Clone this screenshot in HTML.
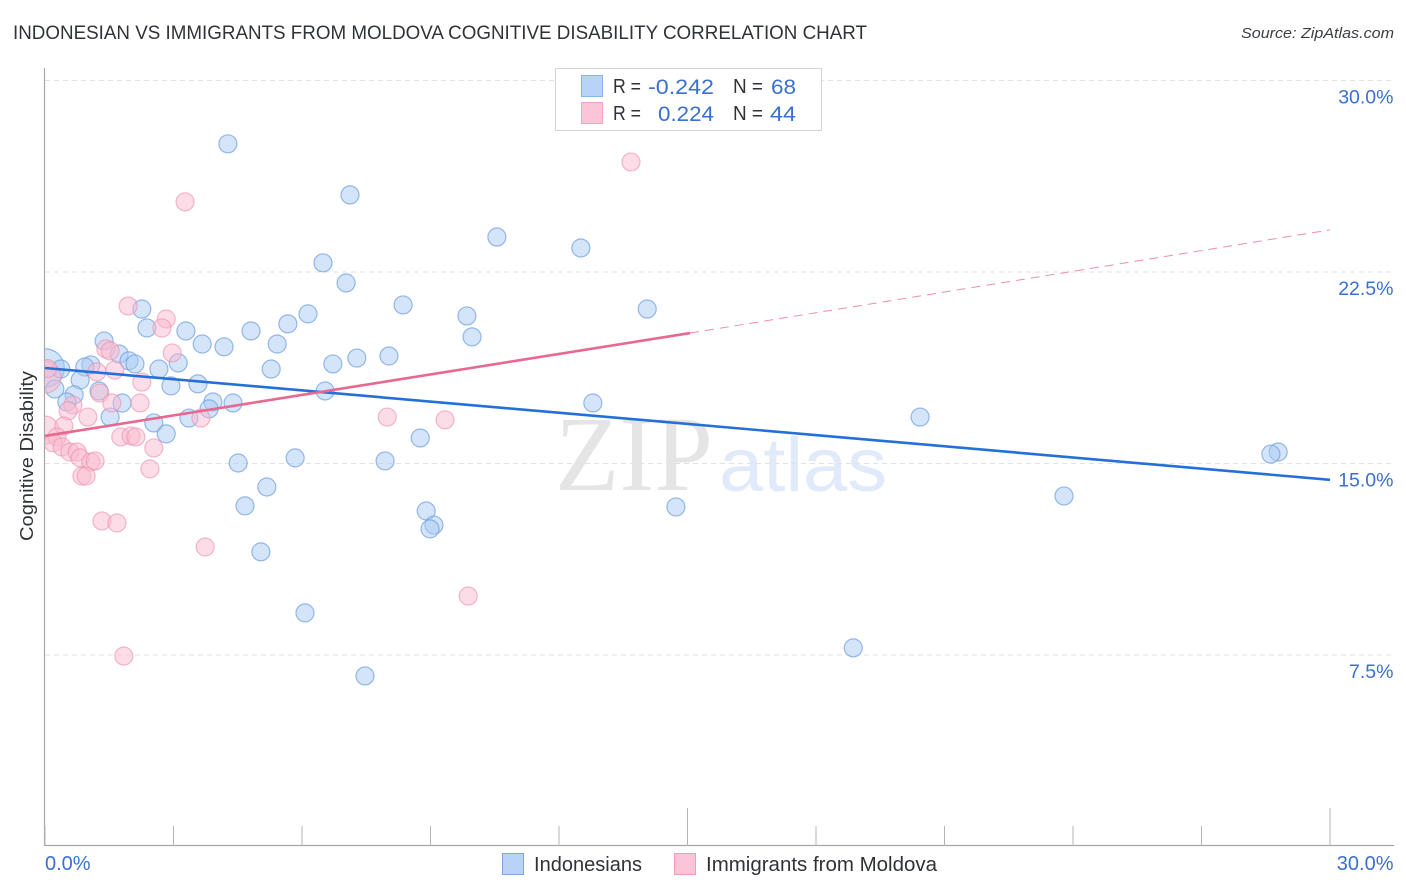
<!DOCTYPE html>
<html lang="en">
<head>
<meta charset="utf-8">
<title>Indonesian vs Immigrants from Moldova Cognitive Disability Correlation Chart</title>
<style>
html,body{margin:0;padding:0;background:#fff;width:1406px;height:892px;overflow:hidden}
svg{display:block;font-family:"Liberation Sans",sans-serif}
</style>
</head>
<body>
<svg id="chart" width="1406" height="892" viewBox="0 0 1406 892" xmlns="http://www.w3.org/2000/svg">
  <defs>
    <clipPath id="plot-clip"><rect x="45" y="60" width="1349" height="786"/></clipPath>
  </defs>
  <rect x="0" y="0" width="1406" height="892" fill="#fff"/>
  <text x="13" y="39" font-size="19" fill="#2f3338" textLength="854" lengthAdjust="spacingAndGlyphs">INDONESIAN VS IMMIGRANTS FROM MOLDOVA COGNITIVE DISABILITY CORRELATION CHART</text>
  <text x="1394" y="38" font-size="15" font-style="italic" fill="#3c4043" text-anchor="end" textLength="153" lengthAdjust="spacingAndGlyphs">Source: ZipAtlas.com</text>

  <g>
    <text x="555" y="490" font-family="'Liberation Serif',serif" font-size="107" fill="#e5e5e5" textLength="158" lengthAdjust="spacingAndGlyphs">ZIP</text>
    <text x="719" y="491" font-size="76" fill="#e1eafa" textLength="168" lengthAdjust="spacingAndGlyphs">atlas</text>
  </g>

  <g id="grid"></g>
  <g id="axes"></g>
  <g id="points" clip-path="url(#plot-clip)"></g>
  <g id="trends"></g>

  <g>
    <rect x="555.5" y="68.5" width="266" height="62" fill="#fff" stroke="#d4d4d4"/>
    <rect x="581.5" y="75.5" width="21" height="21" fill="#b8d3f6" stroke="#8db2e6"/>
    <rect x="581.5" y="102.5" width="21" height="21" fill="#fcc5d7" stroke="#f0a6bf"/>
    <g font-size="20" fill="#2f3338" lengthAdjust="spacingAndGlyphs">
      <text x="613" y="93" textLength="28" lengthAdjust="spacingAndGlyphs">R =</text>
      <text x="733" y="93" textLength="30" lengthAdjust="spacingAndGlyphs">N =</text>
      <text x="613" y="120" textLength="28" lengthAdjust="spacingAndGlyphs">R =</text>
      <text x="733" y="120" textLength="30" lengthAdjust="spacingAndGlyphs">N =</text>
    </g>
    <g font-size="21" fill="#3a70cf">
      <text x="648" y="94" textLength="66" lengthAdjust="spacingAndGlyphs">-0.242</text>
      <text x="771" y="94" textLength="25" lengthAdjust="spacingAndGlyphs">68</text>
      <text x="658" y="121" textLength="56" lengthAdjust="spacingAndGlyphs">0.224</text>
      <text x="770" y="121" textLength="26" lengthAdjust="spacingAndGlyphs">44</text>
    </g>
  </g>

  <g>
    <g>
      <rect x="502.5" y="853.5" width="21" height="21" fill="#b8d3f6" stroke="#7ea6df"/>
      <text x="534" y="871" font-size="20" fill="#2f3338" textLength="108" lengthAdjust="spacingAndGlyphs">Indonesians</text>
    </g>
    <g>
      <rect x="674.5" y="853.5" width="21" height="21" fill="#fcc5d7" stroke="#ee9fba"/>
      <text x="706" y="871" font-size="20" fill="#2f3338" textLength="231" lengthAdjust="spacingAndGlyphs">Immigrants from Moldova</text>
    </g>
  </g>
  <text transform="translate(33,456) rotate(-90)" font-size="18.5" fill="#2f3338" text-anchor="middle" textLength="170" lengthAdjust="spacingAndGlyphs">Cognitive Disability</text>
</svg>

<script>
const yTickValues = [30, 22.5, 15, 7.5];
const yTickLabels = ["30.0%", "22.5%", "15.0%", "7.5%"];
const xTickValues = [0, 3, 6, 9, 12, 15, 18, 21, 24, 27, 30];
const xMajorTicks = [15, 30];
const xEndValues = [0, 30];
const xEndLabels = ["0.0%", "30.0%"];

const indonesianX = [0,4.27,7.12,10.55,12.51,6.49,7.03,8.36,2.26,6.14,9.85,14.06,2.38,3.29,4.81,5.67,9.97,1.38,3.67,4.18,5.42,1.73,1.96,2.10,1.07,0.93,0.37,2.66,3.11,5.28,6.72,7.28,8.03,0.82,2.94,3.57,0.23,0.68,1.26,6.54,0.51,1.80,3.92,4.39,3.83,12.79,1.52,3.36,2.54,20.43,2.83,8.76,4.51,5.84,7.94,28.79,28.62,5.18,23.79,4.67,14.73,8.90,9.08,8.99,5.04,6.07,18.87,7.47];
const indonesianY = [18.72,27.50,25.50,23.85,23.42,22.84,22.05,21.19,21.03,20.84,20.76,21.03,20.29,20.17,20.17,20.45,19.94,19.78,19.66,19.55,19.66,19.27,19.00,18.88,18.84,18.76,18.68,18.68,18.92,18.68,18.88,19.11,19.19,18.25,18.02,18.10,17.90,17.67,17.82,17.82,17.39,17.35,17.39,17.35,17.12,17.35,16.80,16.76,16.57,16.80,16.14,15.98,15.00,15.20,15.08,15.43,15.35,14.06,13.71,13.32,13.28,13.12,12.57,12.42,11.52,9.13,7.76,6.66];
const indonesianWeights = [4.6];

const moldovaX = [0,0,0.06,13.68,3.27,1.94,2.83,2.73,2.97,1.42,1.52,1.63,1.21,2.26,1.28,2.22,1.56,0.65,0.54,1.00,3.64,7.99,9.34,0.44,1.77,2.01,2.12,0.28,0.19,0.40,2.54,0.58,0.75,0.82,1.07,1.17,2.45,0.86,0.96,1.33,1.68,3.74,9.88,1.84];
const moldovaY = [18.37,16.29,18.70,26.79,25.23,21.15,20.64,20.29,19.31,19.47,19.39,18.64,18.57,18.17,17.74,17.35,17.35,17.27,17.04,16.80,16.76,16.80,16.69,16.45,16.02,16.06,16.02,16.02,15.79,15.63,15.59,15.43,15.43,15.20,15.04,15.08,14.77,14.49,14.49,12.73,12.65,11.71,9.79,7.44];
const moldovaWeights = [3.2, 2.4];

const indonesianTrendX = [0, 30];
const indonesianTrendY = [18.72, 14.34];
const moldovaSolidTrendX = [0, 15.06];
const moldovaSolidTrendY = [16.06, 20.09];
const moldovaDashedTrendX = [15.06, 30];
const moldovaDashedTrendY = [20.09, 24.13];

const SVGNS = "http://www.w3.org/2000/svg";
const xScale = v => 45 + v * (1330 - 45) / 30;
const yScale = v => 846 - v * (846 - 80) / 30;
const radius = w => 9 * Math.sqrt(w || 1);

function make(tag, attrs, parent) {
  const el = document.createElementNS(SVGNS, tag);
  for (const k in attrs) el.setAttribute(k, attrs[k]);
  parent.appendChild(el);
  return el;
}

const gridG = document.getElementById("grid");
const axesG = document.getElementById("axes");
const pointsG = document.getElementById("points");
const trendsG = document.getElementById("trends");

yTickValues.forEach((v, i) => {
  const line = make("line", {x1: 45, x2: 1394, y1: yScale(v) + 0.5, y2: yScale(v) + 0.5, stroke: "#e2e2e2", "stroke-width": 1, "stroke-dasharray": "5 4"}, gridG);
  
  
  const label = make("text", {x: 1393.5, y: yScale(v) + 23.5, "font-size": 19.5, fill: "#3a70cf", "text-anchor": "end"}, axesG);
  label.textContent = yTickLabels[i];
  
  
});

const yAxisLine = make("line", {x1: 44.5, x2: 44.5, y1: 68, y2: 846, stroke: "#a8a8a8", "stroke-width": 1.2}, axesG);


const xAxisLine = make("line", {x1: 44, x2: 1394, y1: 845.5, y2: 845.5, stroke: "#a8a8a8", "stroke-width": 1.2}, axesG);



xTickValues.forEach(v => {
  const top = xMajorTicks.includes(v) ? 808 : 826;
  const tick = make("line", {x1: xScale(v), x2: xScale(v), y1: top, y2: 846, stroke: "#b4b4b4", "stroke-width": 1}, axesG);
  
  
});

xEndValues.forEach((v, i) => {
  const label = make("text", {x: i === 0 ? xScale(v) : 1393.5, y: 870, "font-size": 20, fill: "#3a70cf", "text-anchor": i === 0 ? "start" : "end"}, axesG);
  label.textContent = xEndLabels[i];
  
  
});

indonesianX.forEach((v, i) => {
  const dot = make("circle", {cx: xScale(v), cy: yScale(indonesianY[i]), r: radius(indonesianWeights[i]), fill: "#a9caf3", "fill-opacity": 0.5, stroke: "#6f9fe0", "stroke-opacity": 0.72, "stroke-width": 1.2}, pointsG);
  
  
});

moldovaX.forEach((v, i) => {
  const dot = make("circle", {cx: xScale(v), cy: yScale(moldovaY[i]), r: radius(moldovaWeights[i]), fill: "#fab9ce", "fill-opacity": 0.5, stroke: "#ec8fae", "stroke-opacity": 0.62, "stroke-width": 1.2}, pointsG);
  
  
});

const blueTrend = make("line", {x1: xScale(indonesianTrendX[0]), y1: yScale(indonesianTrendY[0]), x2: xScale(indonesianTrendX[1]), y2: yScale(indonesianTrendY[1]), stroke: "#2470d8", "stroke-width": 2.6}, trendsG);


const pinkTrend = make("line", {x1: xScale(moldovaSolidTrendX[0]), y1: yScale(moldovaSolidTrendY[0]), x2: xScale(moldovaSolidTrendX[1]), y2: yScale(moldovaSolidTrendY[1]), stroke: "#e8688f", "stroke-width": 2.6}, trendsG);


const pinkDash = make("line", {x1: xScale(moldovaDashedTrendX[0]), y1: yScale(moldovaDashedTrendY[0]), x2: xScale(moldovaDashedTrendX[1]), y2: yScale(moldovaDashedTrendY[1]), stroke: "#ec8fae", "stroke-width": 1, "stroke-dasharray": "9 6"}, trendsG);


</script>
</body>
</html>
